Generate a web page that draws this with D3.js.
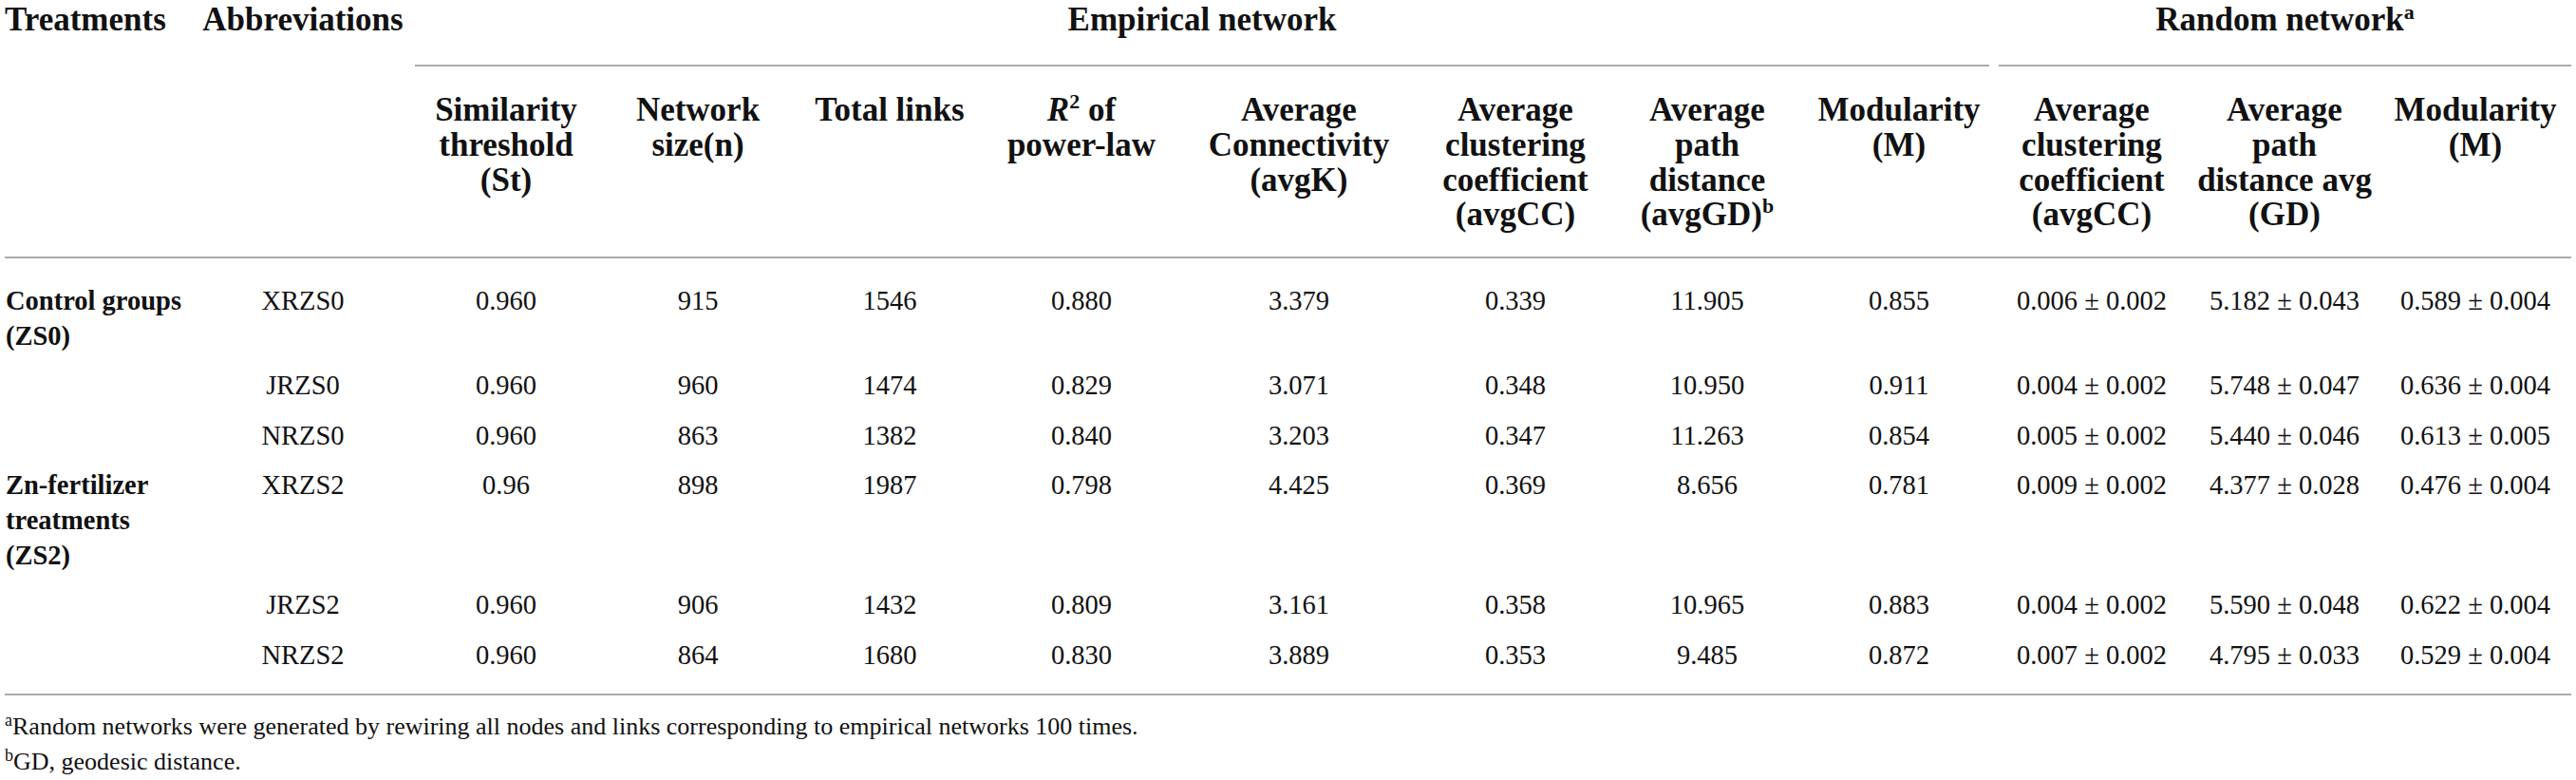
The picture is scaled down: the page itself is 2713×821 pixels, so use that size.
<!DOCTYPE html>
<html>
<head>
<meta charset="utf-8">
<script src="https://cdn.jsdelivr.net/npm/d3@7"></script>
<style>
body{margin:0;background:#fff}
text{font-family:"Liberation Serif","Times New Roman",serif;fill:#111}
</style>
</head>
<body>
<svg id="tbl"></svg>
<script>
// ---- table data ----
const groups = [["Control groups", "(ZS0)"], ["Zn-fertilizer", "treatments", "(ZS2)"]];
const abbreviations = ["XRZS0", "JRZS0", "NRZS0", "XRZS2", "JRZS2", "NRZS2"];
const rowGroup = [0, 0, 0, 1, 1, 1];
const similarityThreshold = ["0.960", "0.960", "0.960", "0.96", "0.960", "0.960"];
const networkSize = [915, 960, 863, 898, 906, 864];
const totalLinks = [1546, 1474, 1382, 1987, 1432, 1680];
const r2PowerLaw = [0.880, 0.829, 0.840, 0.798, 0.809, 0.830];
const avgConnectivity = [3.379, 3.071, 3.203, 4.425, 3.161, 3.889];
const avgClustering = [0.339, 0.348, 0.347, 0.369, 0.358, 0.353];
const avgPathDistance = [11.905, 10.950, 11.263, 8.656, 10.965, 9.485];
const modularity = [0.855, 0.911, 0.854, 0.781, 0.883, 0.872];
const randClusteringMean = [0.006, 0.004, 0.005, 0.009, 0.004, 0.007];
const randClusteringSd = [0.002, 0.002, 0.002, 0.002, 0.002, 0.002];
const randPathMean = [5.182, 5.748, 5.440, 4.377, 5.590, 4.795];
const randPathSd = [0.043, 0.047, 0.046, 0.028, 0.048, 0.033];
const randModMean = [0.589, 0.636, 0.613, 0.476, 0.622, 0.529];
const randModSd = [0.004, 0.004, 0.005, 0.004, 0.004, 0.004];

const footnotes = [
  ["a", "Random networks were generated by rewiring all nodes and links corresponding to empirical networks 100 times."],
  ["b", "GD, geodesic distance."]
];

const f3 = d3.format(".3f");
const pm = (m, s) => f3(m) + " \u00b1 " + f3(s);

// columns: key, header lines, cell values
const columns = [
  {key: "st", head: ["Similarity", "threshold", "(St)"], vals: similarityThreshold, w: 202},
  {key: "n", head: ["Network", "size(n)"], vals: networkSize.map(String), w: 202},
  {key: "links", head: ["Total links"], vals: totalLinks.map(String), w: 202},
  {key: "r2", head: ["@R2 of", "power-law"], vals: r2PowerLaw.map(f3), w: 202},
  {key: "k", head: ["Average", "Connectivity", "(avgK)"], vals: avgConnectivity.map(f3), w: 256},
  {key: "cc", head: ["Average", "clustering", "coefficient", "(avgCC)"], vals: avgClustering.map(f3), w: 200},
  {key: "gd", head: ["Average", "path", "distance", "(avgGD)^b"], vals: avgPathDistance.map(f3), w: 204},
  {key: "m", head: ["Modularity", "(M)"], vals: modularity.map(f3), w: 200},
  {key: "rcc", head: ["Average", "clustering", "coefficient", "(avgCC)"], vals: randClusteringMean.map((m, i) => pm(m, randClusteringSd[i])), w: 206},
  {key: "rgd", head: ["Average", "path", "distance avg", "(GD)"], vals: randPathMean.map((m, i) => pm(m, randPathSd[i])), w: 200},
  {key: "rm", head: ["Modularity", "(M)"], vals: randModMean.map((m, i) => pm(m, randModSd[i])), w: 202}
];

// ---- layout ----
const width = 2713, height = 821;
const left = 5, right = 2708;
const colStart = 432;
const headFont = 35, bodyFont = 28.5, footFont = 26;
const lineH = 36.8, rowGap = 52.5;

let acc = colStart;
columns.forEach(c => { c.x0 = acc; acc += c.w; c.cx = c.x0 + c.w / 2; });

const x = d3.scaleOrdinal().domain(columns.map(c => c.key)).range(columns.map(c => c.cx));

// row baselines
const rowLines = abbreviations.map((a, i) => {
  const first = rowGroup.indexOf(rowGroup[i]) === i;
  return first ? groups[rowGroup[i]].length : 1;
});
const rowY = [];
let yy = 326;
rowLines.forEach((n, i) => { rowY.push(yy); yy += (n - 1) * lineH + rowGap; });
const y = d3.scaleOrdinal().domain(d3.range(abbreviations.length)).range(rowY);

const svg = d3.select("#tbl").attr("width", width).attr("height", height);

// rules
const ruleColor = "#ababab";
const rules = [
  {x1: colStart + 5, x2: columns[7].x0 + columns[7].w - 5, y: 69},
  {x1: columns[8].x0 + 5, x2: right, y: 69},
  {x1: left, x2: right, y: 271},
  {x1: left, x2: right, y: 731}
];
svg.selectAll("line.rule").data(rules).enter().append("line")
  .attr("class", "rule")
  .attr("x1", d => d.x1).attr("x2", d => d.x2)
  .attr("y1", d => d.y).attr("y2", d => d.y)
  .attr("stroke", ruleColor).attr("stroke-width", 2);

// top header row
const topRow = svg.append("g").attr("font-weight", "bold").attr("font-size", headFont);
topRow.append("text").attr("x", left).attr("y", 32).text("Treatments");
topRow.append("text").attr("x", 319).attr("y", 32).attr("text-anchor", "middle").text("Abbreviations");
topRow.append("text").attr("x", (rules[0].x1 + rules[0].x2) / 2).attr("y", 32)
  .attr("text-anchor", "middle").text("Empirical network");
const rn = topRow.append("text").attr("x", (rules[1].x1 + rules[1].x2) / 2).attr("y", 32)
  .attr("text-anchor", "middle");
rn.append("tspan").text("Random network");
rn.append("tspan").attr("font-size", 22).attr("dy", -12).text("a");

// second header row
function headLine(sel, str) {
  if (str.startsWith("@")) {
    sel.append("tspan").attr("font-style", "italic").text("R");
    sel.append("tspan").attr("font-size", 22).attr("dy", -13).text("2");
    sel.append("tspan").attr("dy", 13).text(str.slice(3));
  } else if (str.includes("^")) {
    const [a, b] = str.split("^");
    sel.append("tspan").text(a);
    sel.append("tspan").attr("font-size", 22).attr("dy", -13).text(b);
  } else {
    sel.text(str);
  }
}
const hg = svg.append("g").attr("font-weight", "bold").attr("font-size", headFont);
columns.forEach(c => {
  c.head.forEach((ln, i) => {
    const t = hg.append("text").attr("x", x(c.key)).attr("y", 127 + i * lineH)
      .attr("text-anchor", "middle");
    headLine(t, ln);
  });
});

// treatment groups
const tg = svg.append("g").attr("font-weight", "bold").attr("font-size", bodyFont);
groups.forEach((g, gi) => {
  const r = rowGroup.indexOf(gi);
  g.forEach((ln, i) => {
    tg.append("text").attr("x", left + 1).attr("y", y(r) + i * lineH).text(ln);
  });
});

// body cells
const body = svg.append("g").attr("font-size", bodyFont);
body.selectAll("text.abbr").data(abbreviations).enter().append("text")
  .attr("class", "abbr")
  .attr("x", 319).attr("y", (d, i) => y(i))
  .attr("text-anchor", "middle").text(d => d);
columns.forEach(c => {
  body.selectAll("text.c-" + c.key).data(c.vals).enter().append("text")
    .attr("class", "c-" + c.key)
    .attr("x", x(c.key)).attr("y", (d, i) => y(i))
    .attr("text-anchor", "middle").text(d => d);
});

// footnotes
const fn = svg.append("g").attr("font-size", footFont);
footnotes.forEach((f, i) => {
  const t = fn.append("text").attr("x", left).attr("y", 773 + i * 37);
  t.append("tspan").attr("font-size", 18).attr("dy", -9).text(f[0]);
  t.append("tspan").attr("dy", 9).text(f[1]);
});
</script>
</body>
</html>
